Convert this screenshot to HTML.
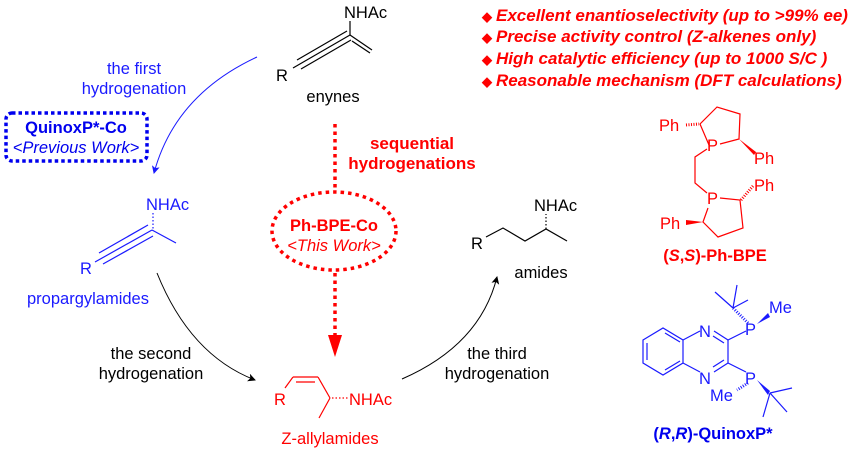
<!DOCTYPE html>
<html><head><meta charset="utf-8"><style>
html,body{margin:0;padding:0;background:#fff;}
svg{display:block;font-family:"Liberation Sans",Arial,sans-serif;}
</style></head><body>
<svg width="864" height="453" viewBox="0 0 864 453" xmlns="http://www.w3.org/2000/svg">
<defs>
<marker id="ab" markerWidth="8" markerHeight="8" refX="7" refY="4" orient="auto" markerUnits="userSpaceOnUse"><path d="M0,0 L8,4 L0,8 L2,4 Z" fill="#1a1aff"/></marker>
<marker id="ak" markerWidth="8" markerHeight="8" refX="7" refY="4" orient="auto" markerUnits="userSpaceOnUse"><path d="M0,0 L8,4 L0,8 L2,4 Z" fill="#000"/></marker>
</defs>
<!-- enyne -->
<g stroke="#000" stroke-width="1.2" fill="none">
<line x1="350" y1="35" x2="350" y2="21"/>
<line x1="350" y1="35" x2="372" y2="50"/>
<line x1="352" y1="41" x2="370" y2="53"/>
<line x1="350" y1="35" x2="293" y2="68"/>
<line x1="347" y1="31" x2="297" y2="60"/>
<line x1="351" y1="40" x2="301" y2="69"/>
</g>
<text x="344" y="18" font-size="16.5">NHAc</text>
<text x="276" y="81" font-size="16.5">R</text>
<text x="333" y="102" font-size="16.5" text-anchor="middle">enynes</text>
<!-- blue arrow -->
<path d="M257,57 Q175,95 154,173" stroke="#1a1aff" stroke-width="1" fill="none" marker-end="url(#ab)"/>
<text x="134" y="74" font-size="16.5" fill="#1a1aff" text-anchor="middle">the first</text>
<text x="134" y="94" font-size="16.5" fill="#1a1aff" text-anchor="middle">hydrogenation</text>
<rect x="6" y="113" width="141" height="48" rx="6" fill="none" stroke="#0000ee" stroke-width="3.5" stroke-dasharray="3.5,3"/>
<text x="76" y="133" font-size="16.5" font-weight="bold" fill="#0000ee" text-anchor="middle">QuinoxP*-Co</text>
<text x="76" y="153" font-size="16.5" font-style="italic" fill="#0000ee" text-anchor="middle">&lt;Previous Work&gt;</text>
<!-- propargylamide -->
<g stroke="#1a1aff" stroke-width="1.2" fill="none">
<line x1="153" y1="213" x2="153" y2="229" stroke-dasharray="1.5,2"/>
<line x1="152" y1="230" x2="176" y2="243"/>
<line x1="152" y1="230" x2="95" y2="262"/>
<line x1="148" y1="225" x2="99" y2="253"/>
<line x1="153" y1="236" x2="103" y2="264"/>
</g>
<text x="146" y="210" font-size="16.5" fill="#1a1aff">NHAc</text>
<text x="80" y="274" font-size="16.5" fill="#1a1aff">R</text>
<text x="88" y="304" font-size="16.5" fill="#1a1aff" text-anchor="middle">propargylamides</text>
<!-- arrow 2 -->
<path d="M157,273 Q190,355 255,380" stroke="#000" stroke-width="1" fill="none" marker-end="url(#ak)"/>
<text x="151" y="359" font-size="16.5" text-anchor="middle">the second</text>
<text x="151" y="379" font-size="16.5" text-anchor="middle">hydrogenation</text>
<!-- red dotted -->
<line x1="335" y1="124" x2="335" y2="190" stroke="#f00" stroke-width="3.5" stroke-dasharray="3.5,4"/>
<ellipse cx="334" cy="231" rx="62" ry="39" fill="none" stroke="#f00" stroke-width="3.5" stroke-dasharray="3.5,4"/>
<line x1="335" y1="273" x2="335" y2="336" stroke="#f00" stroke-width="3.5" stroke-dasharray="3.5,4"/>
<path d="M328,335 L342,335 L335,357 Z" fill="#f00"/>
<text x="412" y="149" font-size="17" font-weight="bold" fill="#f00" text-anchor="middle">sequential</text>
<text x="412" y="169" font-size="17" font-weight="bold" fill="#f00" text-anchor="middle">hydrogenations</text>
<text x="334" y="231" font-size="16.5" font-weight="bold" fill="#f00" text-anchor="middle">Ph-BPE-Co</text>
<text x="334" y="251" font-size="16.5" font-style="italic" fill="#f00" text-anchor="middle">&lt;This Work&gt;</text>
<!-- Z-allylamide -->
<g stroke="#f00" stroke-width="1.2" fill="none">
<line x1="285" y1="388" x2="293" y2="377"/>
<line x1="293" y1="377" x2="318" y2="377"/>
<line x1="296" y1="382" x2="315" y2="382"/>
<line x1="318" y1="377" x2="330" y2="398"/>
<line x1="330" y1="398" x2="319" y2="418"/>
<line x1="332" y1="398" x2="348" y2="398" stroke-dasharray="1.5,2"/>
</g>
<text x="274" y="405" font-size="16.5" fill="#f00">R</text>
<text x="349" y="405" font-size="16.5" fill="#f00">NHAc</text>
<text x="330" y="444" font-size="16.5" fill="#f00" text-anchor="middle">Z-allylamides</text>
<!-- arrow 3 -->
<path d="M402,379 Q480,345 497,277" stroke="#000" stroke-width="1" fill="none" marker-end="url(#ak)"/>
<text x="497" y="359" font-size="16.5" text-anchor="middle">the third</text>
<text x="497" y="379" font-size="16.5" text-anchor="middle">hydrogenation</text>
<!-- amides -->
<g stroke="#000" stroke-width="1.2" fill="none">
<polyline points="486,237 503,228 525,241 546,229 567,241"/>
<line x1="546" y1="229" x2="546" y2="214" stroke-dasharray="1.5,2"/>
</g>
<text x="534" y="211" font-size="16.5">NHAc</text>
<text x="471" y="249" font-size="16.5">R</text>
<text x="541" y="278" font-size="16.5" text-anchor="middle">amides</text>
<!-- bullets -->
<g fill="#f00" font-size="17" font-weight="bold" font-style="italic">
<text x="482" y="21" font-size="13" font-style="normal">◆</text><text x="496" y="21">Excellent enantioselectivity (up to &gt;99% ee)</text>
<text x="482" y="42" font-size="13" font-style="normal">◆</text><text x="496" y="42">Precise activity control (Z-alkenes only)</text>
<text x="482" y="64" font-size="13" font-style="normal">◆</text><text x="496" y="64">High catalytic efficiency (up to 1000 S/C )</text>
<text x="482" y="86" font-size="13" font-style="normal">◆</text><text x="496" y="86">Reasonable mechanism (DFT calculations)</text>
</g>
<!-- Ph-BPE -->
<g stroke="#f00" stroke-width="1.2" fill="none">
<polyline points="709,145 700,124 717,107 740,114 739,139 720,144"/>
<polyline points="707,149 695,157 695,183 707,193"/>
<polyline points="720,198 740,200 743,228 718,237 703,222 708,208"/>
<line x1="686" y1="125" x2="699" y2="124" stroke-dasharray="1,1.5" stroke-width="3"/>
<line x1="741" y1="200" x2="753" y2="186" stroke-dasharray="1,1.5" stroke-width="3"/>
</g>
<path d="M739,139 L756,152 L754,155 Z" fill="#f00"/>
<path d="M703,222 L686,220 L686,225 Z" fill="#f00"/>
<g fill="#f00" font-size="16.5">
<text x="659" y="131">Ph</text>
<text x="707" y="151">P</text>
<text x="754" y="164">Ph</text>
<text x="754" y="191">Ph</text>
<text x="707" y="204">P</text>
<text x="660" y="229">Ph</text>
</g>
<text x="715" y="261" font-size="16.5" font-weight="bold" fill="#f00" text-anchor="middle">(<tspan font-style="italic">S</tspan>,<tspan font-style="italic">S</tspan>)-Ph-BPE</text>
<!-- QuinoxP* -->
<g stroke="#1a1aff" stroke-width="1.2" fill="none">
<polygon points="643,340 663,328 683,340 683,363 663,375 643,363"/>
<line x1="647" y1="343" x2="647" y2="360"/>
<line x1="665" y1="333" x2="680" y2="342"/>
<line x1="665" y1="370" x2="680" y2="361"/>
<line x1="683" y1="340" x2="700" y2="331"/>
<line x1="683" y1="363" x2="700" y2="372"/>
<line x1="714" y1="331" x2="728" y2="340"/>
<line x1="713" y1="336" x2="724" y2="343"/>
<line x1="728" y1="340" x2="728" y2="363"/>
<line x1="728" y1="363" x2="714" y2="372"/>
<line x1="724" y1="360" x2="713" y2="367"/>
<line x1="728" y1="340" x2="746" y2="331"/>
<line x1="728" y1="363" x2="746" y2="372"/>
<line x1="748" y1="323" x2="733" y2="308" stroke-dasharray="1,1.5" stroke-width="3"/>
<line x1="733" y1="308" x2="715" y2="292"/>
<line x1="733" y1="308" x2="737" y2="285"/>
<line x1="733" y1="308" x2="748" y2="300"/>
<line x1="748" y1="383" x2="737" y2="390" stroke-dasharray="1,1.5" stroke-width="3"/>
<line x1="770" y1="393" x2="792" y2="388"/>
<line x1="770" y1="393" x2="787" y2="412"/>
<line x1="770" y1="393" x2="763" y2="417"/>
</g>
<path d="M757,324 L768,313 L770,317 Z" fill="#1a1aff"/>
<path d="M757,380 L770,391 L768,395 Z" fill="#1a1aff"/>
<g fill="#1a1aff" font-size="16.5">
<text x="699" y="337">N</text>
<text x="699" y="384">N</text>
<text x="745" y="335">P</text>
<text x="745" y="384">P</text>
<text x="769" y="313">Me</text>
<text x="710" y="401">Me</text>
</g>
<text x="713" y="439" font-size="16.5" font-weight="bold" fill="#0000ee" text-anchor="middle">(<tspan font-style="italic">R</tspan>,<tspan font-style="italic">R</tspan>)-QuinoxP*</text>
</svg>
</body></html>
